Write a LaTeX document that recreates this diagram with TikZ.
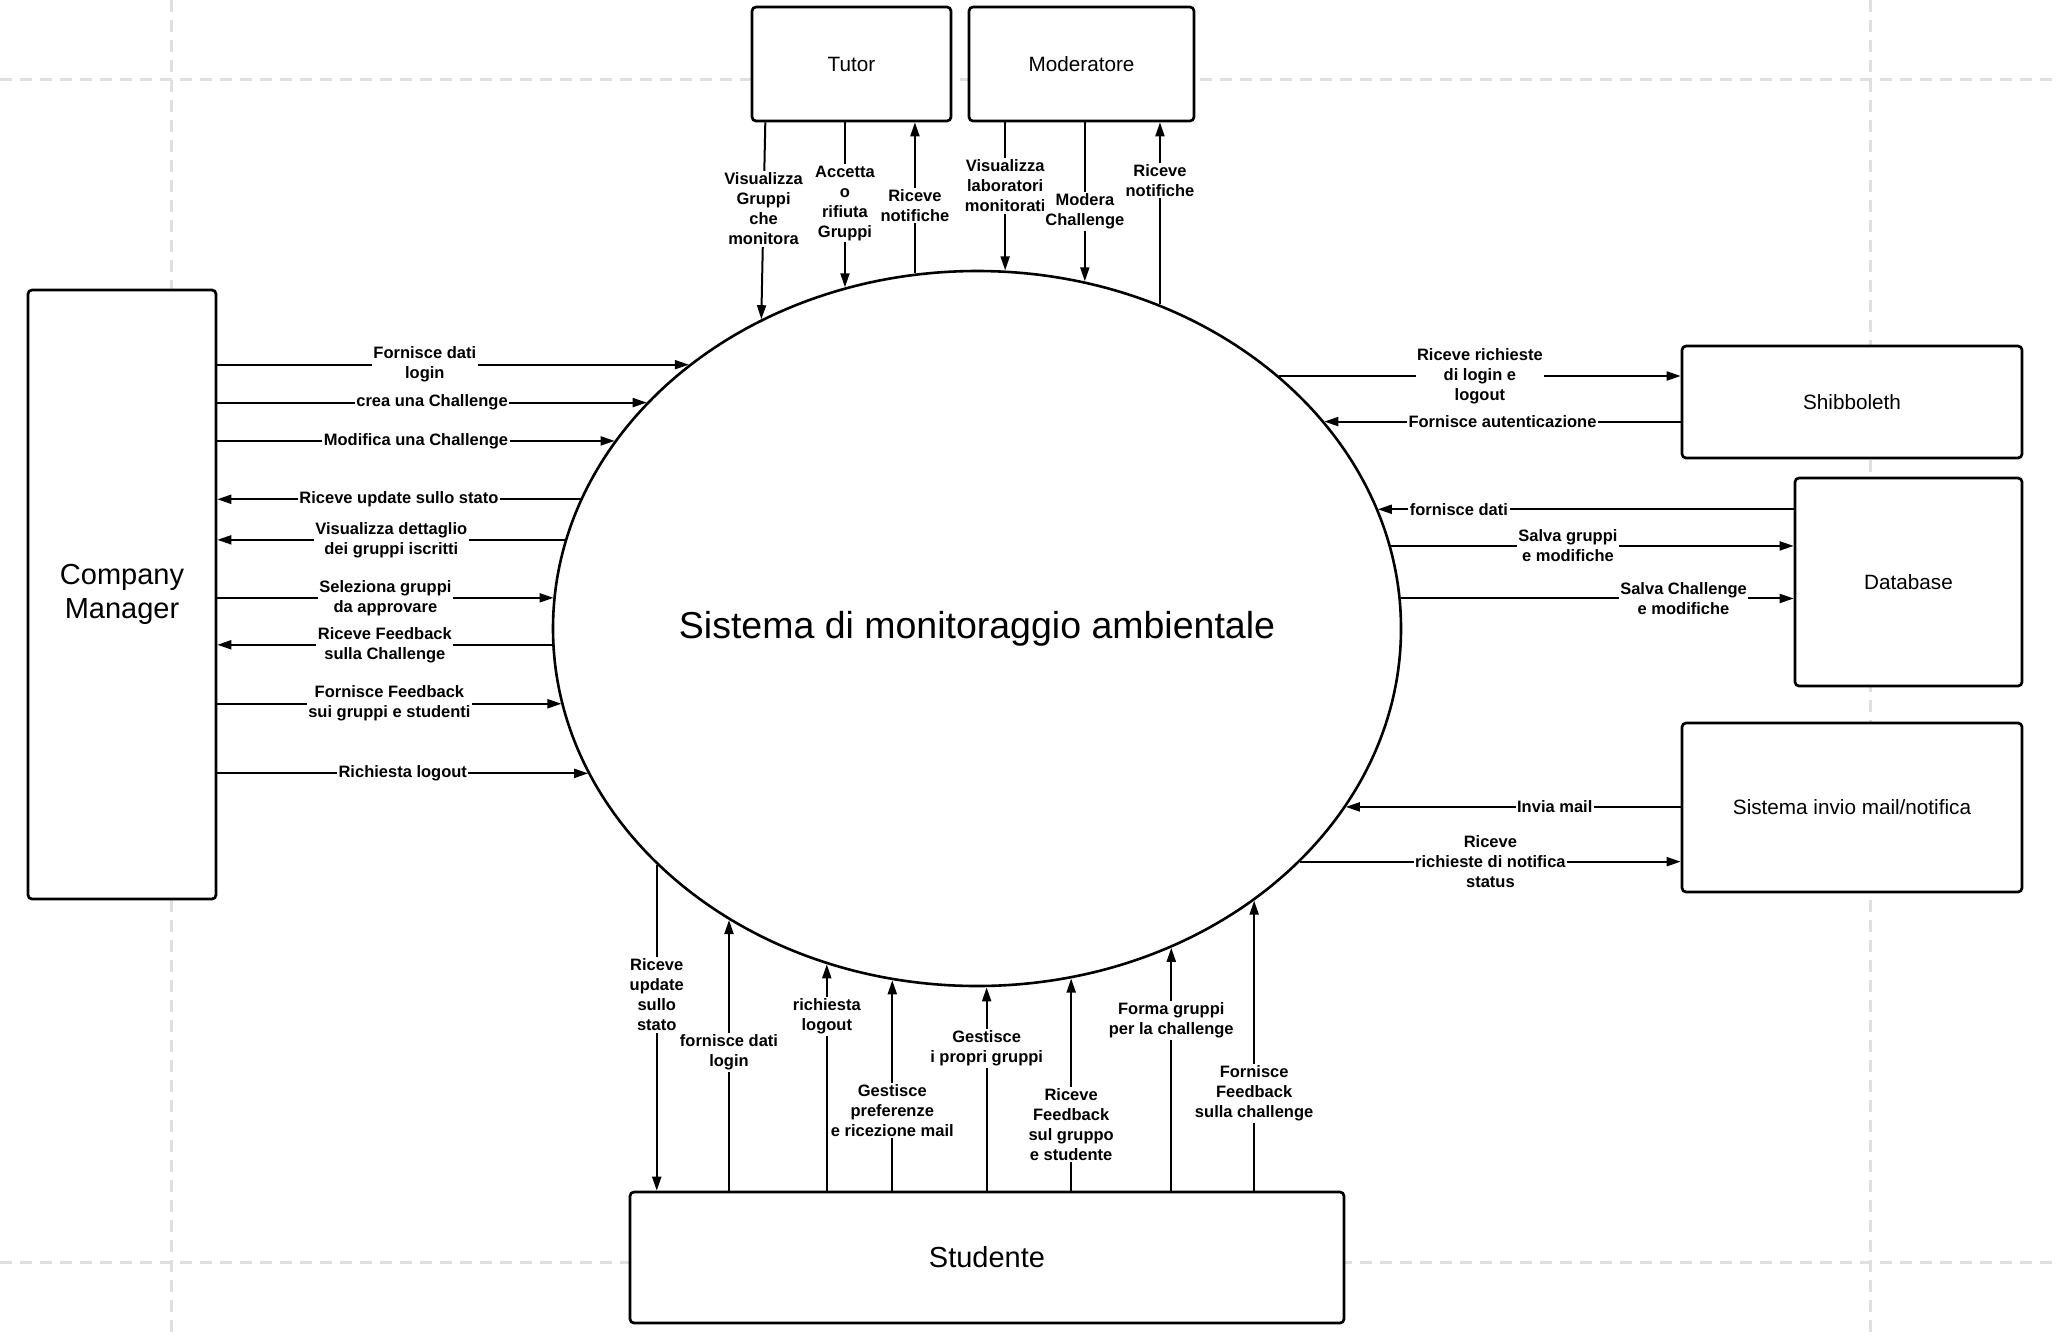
\documentclass[tikz,border=0pt]{standalone}
\usepackage{fontspec}
\setmainfont{Liberation Sans}
\usetikzlibrary{shapes.geometric,arrows.meta,calc}

\tikzset{
  actor/.style={draw, line width=2.7pt, rounded corners=4pt, fill=white,
    align=center, inner sep=0pt, font=\fontsize{20.7}{25}\selectfont},
  sysell/.style={draw, ellipse, line width=2.6pt, fill=white, inner sep=0pt,
    minimum width=848pt, minimum height=715pt, font=\fontsize{37.5}{44}\selectfont},
  flow/.style={draw, line width=2pt, -{Triangle[length=14pt,width=9pt]}},
  lbl/.style={fill=white, inner sep=1.5pt, align=center,
    font=\bfseries\fontsize{16.5}{20}\selectfont},
  guide/.style={draw=gray!25, line width=3pt, dash pattern=on 12pt off 8pt},
}

\begin{document}
\begin{tikzpicture}[x=1pt, y=-1pt]
\fill[white] (0,0) rectangle (2060,1336);
\useasboundingbox (0,0) rectangle (2060,1336);
% page grid
\draw[guide] (171,0) -- (171,1336);
\draw[guide] (1870,0) -- (1870,1336);
\draw[guide] (0,79) -- (2060,79);
\draw[guide] (0,1262) -- (2060,1262);

\node[sysell] (sys) at (977,628.5) {Sistema di monitoraggio ambientale};

\node[actor, minimum width=199pt, minimum height=114pt] (tutor) at (851.5,64) {Tutor};
\node[actor, minimum width=225pt, minimum height=114pt] (moder) at (1081.5,64) {Moderatore};
\node[actor, minimum width=188pt, minimum height=609pt,
  font=\fontsize{29}{34}\selectfont] (cm) at (122,594.5) {Company\\Manager};
\node[actor, minimum width=340pt, minimum height=112pt] (shib) at (1852,402) {Shibboleth};
\node[actor, minimum width=227pt, minimum height=208pt] (db) at (1908.5,582) {Database};
\node[actor, minimum width=340pt, minimum height=169pt] (mail) at (1852,807.5) {Sistema invio mail/notifica};
\node[actor, minimum width=714pt, minimum height=131pt,
  font=\fontsize{29}{34}\selectfont] (stud) at (987,1257.5) {Studente};

% points on the ellipse border
\foreach \n/\t in {cm1/227.3, cm2/219.0, cm3/211.5, cm4/201.1, cm5/194.3,
    cm6/184.9, cm7/177.4, cm8/167.9, cm9/156.2,
    sh1/-44.7, sh2/-35.2, db1/-19.4, db2/-13.3, db3/-4.8, ml1/29.8, ml2/40.5,
    tu1/239.5, tu2/251.9, tu3/261.6, mo1/273.8, mo2/284.7, mo3/295.5,
    st1/138.9, st2/125.7, st3/110.7, st4/101.5, st5/88.7, st6/77.2, st7/62.8, st8/49.3}
  \path (sys.center) ++(-\t:425pt and 359pt) coordinate (\n);

% Company Manager
\draw[flow] (cm.east |- cm1) -- node[lbl, pos=.44] {Fornisce dati\\login} (cm1);
\draw[flow] (cm.east |- cm2) -- node[lbl] {crea una Challenge} (cm2);
\draw[flow] (cm.east |- cm3) -- node[lbl] {Modifica una Challenge} (cm3);
\draw[flow] (cm4) -- node[lbl] {Riceve update sullo stato} (cm.east |- cm4);
\draw[flow] (cm5) -- node[lbl] {Visualizza dettaglio\\dei gruppi iscritti} (cm.east |- cm5);
\draw[flow] (cm.east |- cm6) -- node[lbl] {Seleziona gruppi\\da approvare} (cm6);
\draw[flow] (cm7) -- node[lbl] {Riceve Feedback\\sulla Challenge} (cm.east |- cm7);
\draw[flow] (cm.east |- cm8) -- node[lbl] {Fornisce Feedback\\sui gruppi e studenti} (cm8);
\draw[flow] (cm.east |- cm9) -- node[lbl] {Richiesta logout} (cm9);

% Tutor and Moderatore
\draw[flow] ($(tutor.south -| tu1)+(4,0)$) -- node[lbl, pos=.44] {Visualizza\\Gruppi\\che\\monitora} (tu1);
\draw[flow] (tutor.south -| tu2) -- node[lbl, pos=.49] {Accetta\\o\\rifiuta\\Gruppi} (tu2);
\draw[flow] (tu3) -- node[lbl, pos=.45] {Riceve\\notifiche} (tutor.south -| tu3);
\draw[flow] (moder.south -| mo1) -- node[lbl, pos=.43] {Visualizza\\laboratori\\monitorati} (mo1);
\draw[flow] (moder.south -| mo2) -- node[lbl, pos=.56] {Modera\\Challenge} (mo2);
\draw[flow] (mo3) -- node[lbl, pos=.68] {Riceve\\notifiche} (moder.south -| mo3);

% Shibboleth, Database, mail
\draw[flow] (sh1) -- node[lbl] {Riceve richieste\\di login e\\logout} (shib.west |- sh1);
\draw[flow] (shib.west |- sh2) -- node[lbl] {Fornisce autenticazione} (sh2);
\draw[flow] (db.west |- db1) -- node[lbl, pos=.805] {fornisce dati} (db1);
\draw[flow] (db2) -- node[lbl, pos=.44] {Salva gruppi\\e modifiche} (db.west |- db2);
\draw[flow] (db3) -- node[lbl, pos=.72] {Salva Challenge\\e modifiche} (db.west |- db3);
\draw[flow] (mail.west |- ml1) -- node[lbl, pos=.376] {Invia mail} (ml1);
\draw[flow] (ml2) -- node[lbl] {Riceve\\richieste di notifica\\status} (mail.west |- ml2);

% Studente
\draw[flow] (st1) -- node[lbl, pos=.40] {Riceve\\update\\sullo\\stato} (stud.north -| st1);
\draw[flow] (stud.north -| st2) -- node[lbl, pos=.51] {fornisce dati\\login} (st2);
\draw[flow] (stud.north -| st3) -- node[lbl, pos=.77] {richiesta\\logout} (st3);
\draw[flow] (stud.north -| st4) -- node[lbl, pos=.38] {Gestisce\\preferenze\\e ricezione mail} (st4);
\draw[flow] (stud.north -| st5) -- node[lbl, pos=.70] {Gestisce\\i propri gruppi} (st5);
\draw[flow] (stud.north -| st6) -- node[lbl, pos=.31] {Riceve\\Feedback\\sul gruppo\\e studente} (st6);
\draw[flow] (stud.north -| st7) -- node[lbl, pos=.70] {Forma gruppi\\per la challenge} (st7);
\draw[flow] (stud.north -| st8) -- node[lbl, pos=.335] {Fornisce\\Feedback\\sulla challenge} (st8);
\end{tikzpicture}
\end{document}
